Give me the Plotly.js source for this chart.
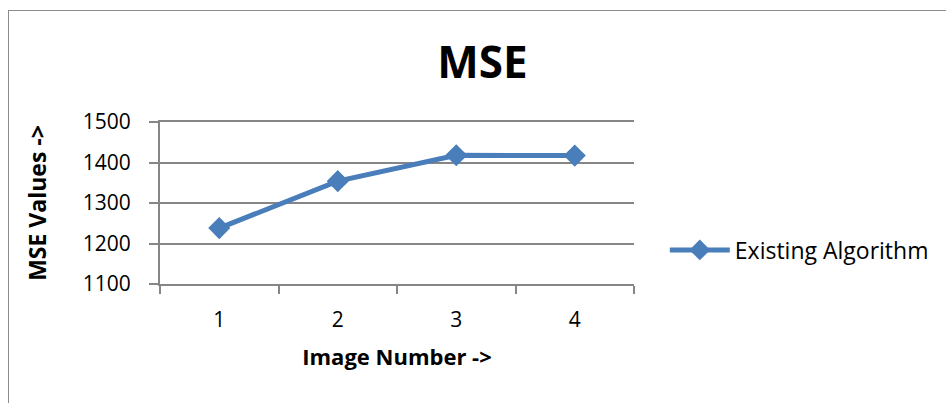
<!DOCTYPE html>
<html>
<head>
<meta charset="utf-8">
<script src="https://cdn.plot.ly/plotly-3.0.1.min.js"></script>
<style>
html,body{margin:0;padding:0;background:#fff;}
#wrap{position:relative;width:946px;height:403px;overflow:hidden;}
#frame{position:absolute;left:8px;top:10px;width:960px;height:420px;border-left:1.5px solid #8c8c8c;border-top:1.5px solid #8c8c8c;}
#chart{position:absolute;left:0;top:0;width:946px;height:403px;}
</style>
</head>
<body>
<div id="wrap"><div id="frame"></div><div id="chart"></div></div>
<script>
const categories = ['1', '2', '3', '4'];
const mseValues = [1238, 1354, 1418, 1417];
const yTicks = [1100, 1200, 1300, 1400, 1500];
const seriesName = 'Existing Algorithm';

const font = '"Open Sans", "Noto Sans", sans-serif';

const trace = {
  x: categories,
  y: mseValues,
  type: 'scatter',
  mode: 'lines+markers',
  name: seriesName,
  line: {color: '#4a7ebb', width: 5},
  marker: {symbol: 'diamond', size: 17, color: '#4a7ebb'}
};

const layout = {
  width: 946, height: 403,
  margin: {l: 160, r: 306, t: 122, b: 119},
  paper_bgcolor: 'rgba(0,0,0,0)',
  plot_bgcolor: 'rgba(0,0,0,0)',
  font: {family: font, color: '#000', size: 21},
  title: {text: '<b>MSE</b>', font: {family: font, size: 44, color: '#000'},
          x: 0.51, xanchor: 'center', y: 0.845, yanchor: 'middle'},
  showlegend: true,
  legend: {x: 1.065, xanchor: 'left', y: 0.21, yanchor: 'middle', itemwidth: 60,
           font: {family: font, size: 23, color: '#000'}, bgcolor: 'rgba(0,0,0,0)'},
  xaxis: {
    type: 'category', range: [-0.5, 3.5], tickson: 'boundaries',
    showline: true, mirror: true, linecolor: '#868686', linewidth: 2,
    ticks: 'outside', ticklen: 8, tickcolor: '#868686', tickwidth: 2,
    showgrid: false, zeroline: false,
    tickfont: {family: font, size: 21}, ticklabelstandoff: 16,
    title: {text: '<b>Image Number -></b>', font: {family: font, size: 22}, standoff: 17}
  },
  yaxis: {
    range: [1100, 1500], tickvals: yTicks, ticktext: yTicks.map(String),
    showline: true, linecolor: '#868686', linewidth: 2,
    ticks: 'outside', ticklen: 9, tickcolor: '#868686', tickwidth: 2,
    showgrid: true, gridcolor: '#868686', gridwidth: 2, zeroline: false,
    tickfont: {family: font, size: 21}, ticklabelstandoff: 14,
    title: {text: '<b>MSE Values -></b>', font: {family: font, size: 23}, standoff: 30}
  }
};

Plotly.newPlot('chart', [trace], layout, {displayModeBar: false, staticPlot: true});
</script>
</body>
</html>
